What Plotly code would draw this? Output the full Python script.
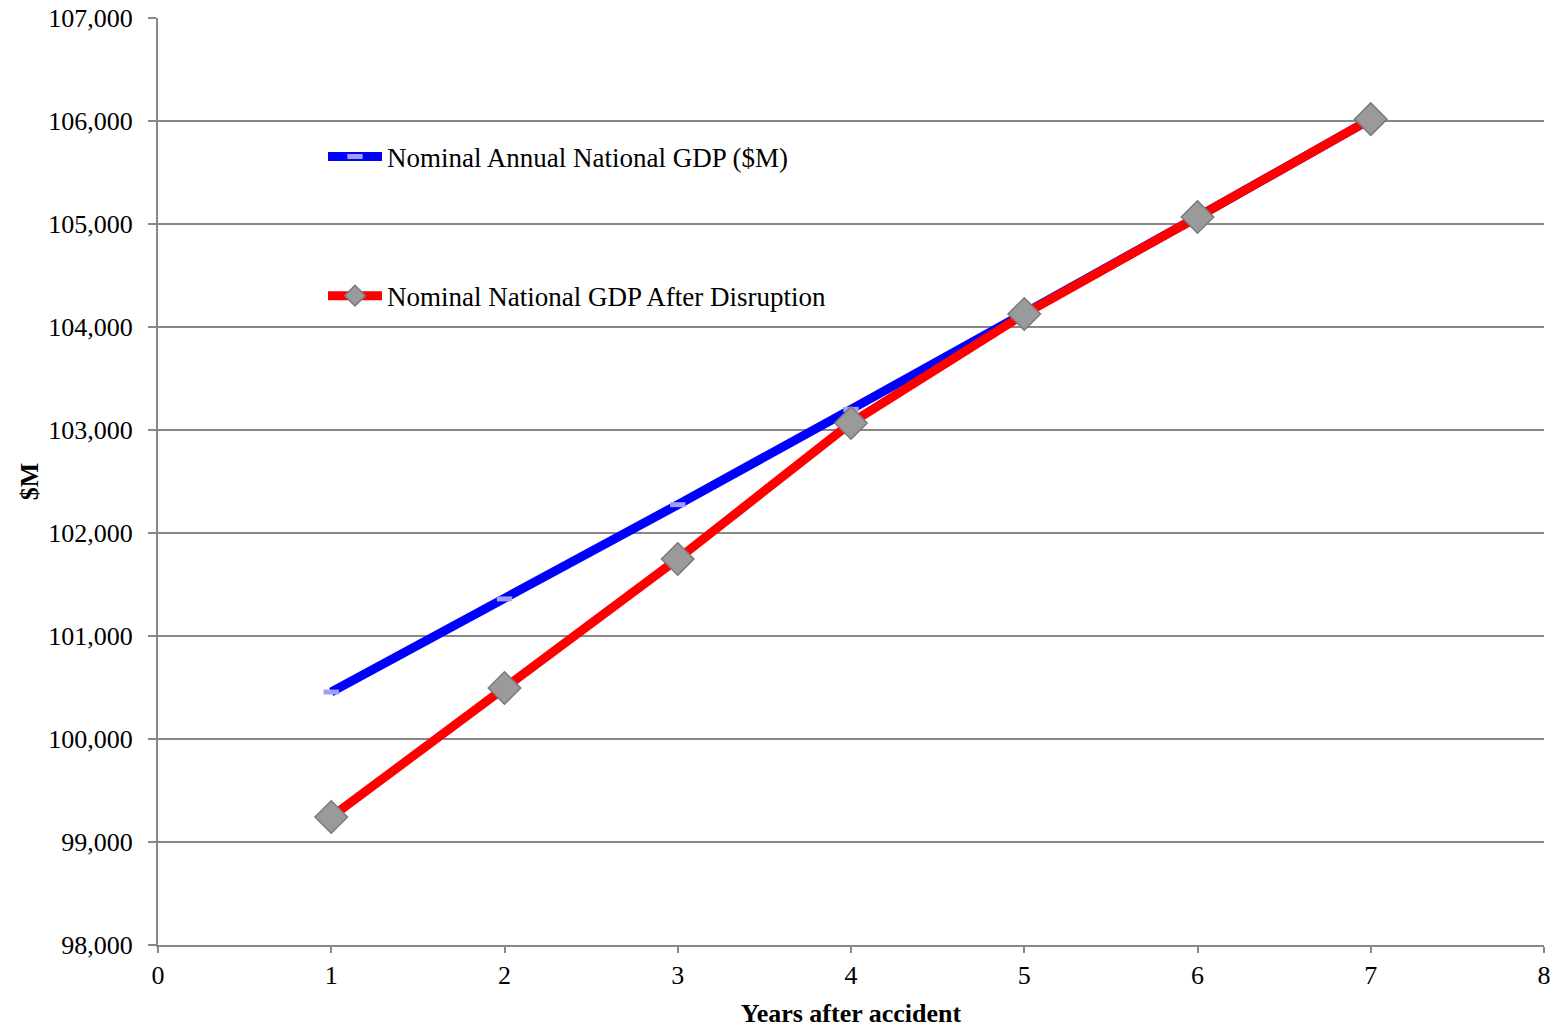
import plotly.graph_objects as go

years = [1, 2, 3, 4, 5, 6, 7]
gdp_nominal = [100456, 101360, 102275, 103200, 104130, 105068, 106018]
gdp_after = [99243, 100495, 101748, 103068, 104126, 105068, 106018]

x_ticks = [0, 1, 2, 3, 4, 5, 6, 7, 8]
y_ticks = [98000, 99000, 100000, 101000, 102000, 103000, 104000, 105000, 106000, 107000]

FONT = "Liberation Serif, Times New Roman, serif"

fig = go.Figure()
fig.add_trace(go.Scatter(
    x=years, y=gdp_nominal, mode="lines+markers",
    name="Nominal Annual National GDP ($M)",
    line=dict(color="#0000ff", width=9),
    marker=dict(symbol="line-ew", size=11, color="#a0a0f0",
                line=dict(color="#a0a0f0", width=5)),
    legend="legend",
))
fig.add_trace(go.Scatter(
    x=years, y=gdp_after, mode="lines+markers",
    name="Nominal National GDP After Disruption",
    line=dict(color="#ff0000", width=9),
    marker=dict(symbol="diamond", size=25, color="#9a9a9a",
                line=dict(color="#7a7a7a", width=1.5)),
    legend="legend2",
))

leg_x = (323 - 158) / 1386
fig.update_layout(
    width=1564, height=1028,
    margin=dict(l=158, r=20, t=18, b=83),
    paper_bgcolor="white", plot_bgcolor="white",
    font=dict(family=FONT, size=26, color="black"),
    legend=dict(x=leg_x, y=0.850, xanchor="left", yanchor="middle", itemwidth=54,
                bgcolor="rgba(0,0,0,0)", font=dict(size=27, family=FONT)),
    legend2=dict(x=leg_x, y=0.700, xanchor="left", yanchor="middle", itemwidth=54,
                 bgcolor="rgba(0,0,0,0)", font=dict(size=27, family=FONT)),
    showlegend=True,
)
fig.update_xaxes(
    range=[0, 8], tickvals=x_ticks, ticktext=[str(v) for v in x_ticks],
    showgrid=False, zeroline=False, automargin=False,
    showline=True, linecolor="#888888", linewidth=2,
    ticks="outside", ticklen=6, tickcolor="#888888", tickwidth=2,
    tickfont=dict(size=26, family=FONT),
    title=dict(text="<b>Years after accident</b>", font=dict(size=26, family=FONT), standoff=17),
)
fig.update_yaxes(
    range=[98000, 107000], tickvals=y_ticks,
    ticktext=[f"{v:,}" for v in y_ticks],
    showgrid=True, gridcolor="#888888", gridwidth=2, zeroline=False, automargin=False,
    showline=True, linecolor="#888888", linewidth=2,
    ticks="outside", ticklen=8, tickcolor="#888888", tickwidth=2,
    ticklabelstandoff=10,
    tickfont=dict(size=26, family=FONT),
    title=dict(text="<b>$M</b>", font=dict(size=26, family=FONT), standoff=2),
)

fig.write_html("out.html")
